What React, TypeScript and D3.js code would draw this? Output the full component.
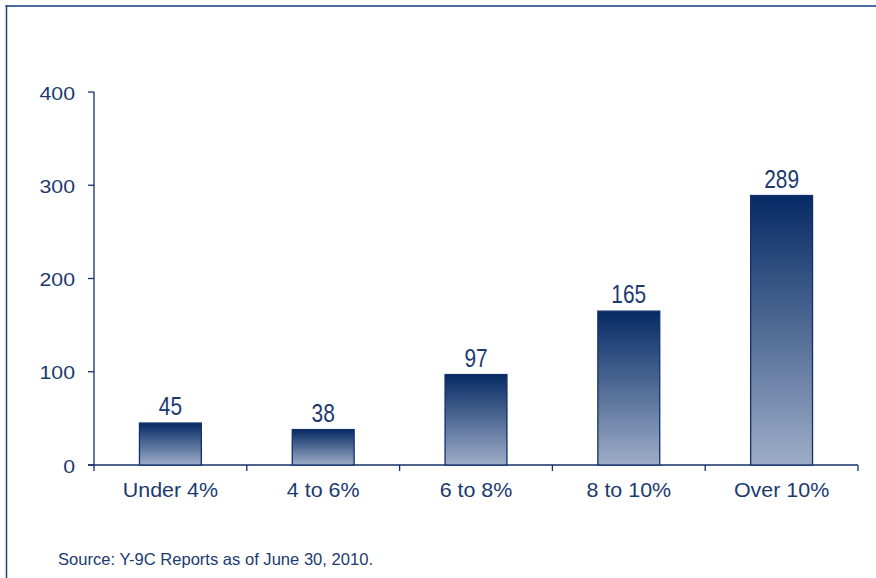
import React from "react";
import * as d3 from "d3";

const categories = ["Under 4%", "4 to 6%", "6 to 8%", "8 to 10%", "Over 10%"];
const values = [45, 38, 97, 165, 289];
const yTicks = [0, 100, 200, 300, 400];
const sourceText = "Source: Y-9C Reports as of June 30, 2010.";

const W = 876;
const H = 578;
const left = 94;
const right = 858;
const top = 92;
const bottom = 465;
const navy = "#12316b";
const textColor = "#1b3a70";
const font = "'Liberation Sans', Arial, Helvetica, sans-serif";

export default function App() {
  const x = d3.scaleBand<string>().domain(categories).range([left, right]).paddingInner(0).paddingOuter(0);
  const y = d3.scaleLinear().domain([0, 400]).range([bottom, top]);
  const bw = x.bandwidth() * 0.405;
  const boundaries = categories.map((c) => x(c) as number).concat([right]).slice(1);

  return (
    <svg width={W} height={H} style={{ position: "absolute", left: 0, top: 0 }}>
      <defs>
        <linearGradient id="barGrad" x1="0" y1="0" x2="0" y2="1">
          <stop offset="0%" stopColor="#062a64" />
          <stop offset="100%" stopColor="#9dadc7" />
        </linearGradient>
      </defs>
      <rect x={0} y={0} width={W} height={H} fill="#ffffff" />
      <line x1={5.5} y1={6} x2={W} y2={6} stroke="#4a6ca3" strokeWidth={2} />
      <line x1={6.5} y1={5} x2={6.5} y2={H} stroke="#1f3f88" strokeWidth={1.5} />

      {/* y axis */}
      <line x1={left} y1={y(400)} x2={left} y2={bottom + 6} stroke={navy} strokeWidth={1.3} />
      {yTicks.map((t) => (
        <g key={t}>
          <line x1={left - 6} y1={y(t)} x2={left} y2={y(t)} stroke={navy} strokeWidth={1.3} />
          <g transform={`translate(${left - 19},${y(t) + 7.5}) scale(1.15,1)`}>
            <text x={0} y={0} textAnchor="end" fontFamily={font} fontSize={18.5} fill={textColor}>
              {t}
            </text>
          </g>
        </g>
      ))}

      {/* x axis */}
      <line x1={left - 6} y1={bottom} x2={right} y2={bottom} stroke={navy} strokeWidth={1.3} />
      {boundaries.map((b, i) => (
        <line key={i} x1={b} y1={bottom} x2={b} y2={bottom + 6} stroke={navy} strokeWidth={1.3} />
      ))}

      {categories.map((c, i) => {
        const cx = (x(c) as number) + x.bandwidth() / 2;
        const v = values[i];
        return (
          <g key={c}>
            <rect
              x={cx - bw / 2}
              y={y(v)}
              width={bw}
              height={bottom - y(v)}
              fill="url(#barGrad)"
              stroke={navy}
              strokeWidth={1.3}
            />
            <g transform={`translate(${cx},${y(v) - 8}) scale(0.82,1)`}>
              <text x={0} y={0} textAnchor="middle" fontFamily={font} fontSize={25.5} fill={textColor}>
                {v}
              </text>
            </g>
            <g transform={`translate(${cx},${bottom + 32}) scale(1.1,1)`}>
              <text x={0} y={0} textAnchor="middle" fontFamily={font} fontSize={19.5} fill={textColor}>
                {c}
              </text>
            </g>
          </g>
        );
      })}

      <text
        x={58}
        y={565}
        fontFamily={font}
        fontSize={16.5}
        textLength={315}
        lengthAdjust="spacingAndGlyphs"
        fill={textColor}
      >
        {sourceText}
      </text>
    </svg>
  );
}
